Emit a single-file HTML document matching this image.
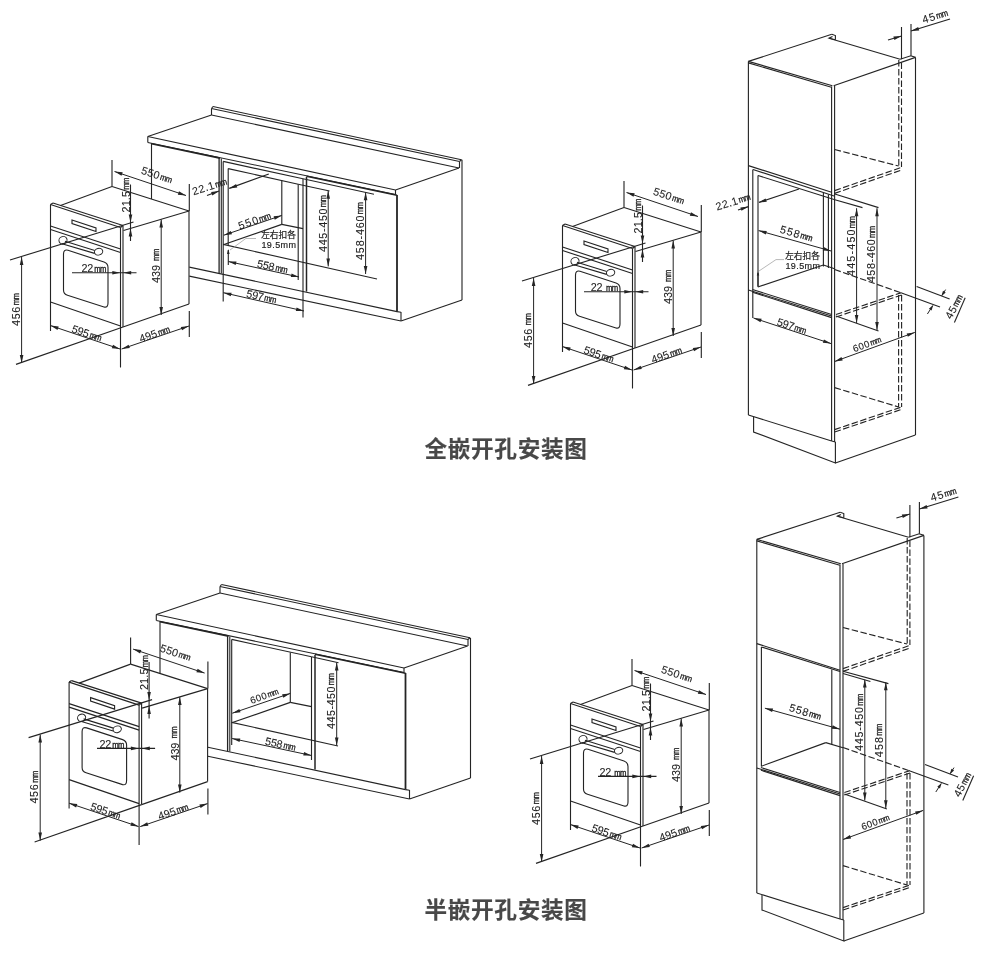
<!DOCTYPE html>
<html lang="zh"><head><meta charset="utf-8"><title>开孔安装图</title>
<style>
html,body{margin:0;padding:0;background:#fff;}
body{width:1000px;height:954px;overflow:hidden;}
svg{display:block;font-family:"Liberation Sans","Noto Sans CJK SC",sans-serif;}
svg{will-change:transform;}
svg line,svg polyline,svg polygon,svg path,svg ellipse{stroke:#242424;stroke-linecap:butt;}
</style></head><body>
<svg width="1000" height="954" viewBox="0 0 1000 954">
<rect x="0" y="0" width="1000" height="954" fill="#ffffff" stroke="none"/>
<line x1="147.8" y1="136.5" x2="147.8" y2="142.5" stroke-width="1.12"/>
<line x1="147.8" y1="136.5" x2="211.5" y2="115.0" stroke-width="1.12"/>
<line x1="211.5" y1="115.0" x2="211.5" y2="108.5" stroke-width="1.12"/>
<line x1="211.5" y1="108.5" x2="213.0" y2="106.5" stroke-width="1.12"/>
<line x1="213.0" y1="106.5" x2="461.5" y2="159.8" stroke-width="1.12"/>
<line x1="211.5" y1="108.5" x2="459.5" y2="161.5" stroke-width="1.12"/>
<line x1="211.5" y1="115.0" x2="459.0" y2="168.0" stroke-width="1.12"/>
<line x1="459.5" y1="161.5" x2="459.5" y2="168.0" stroke-width="1.12"/>
<line x1="459.5" y1="161.5" x2="461.5" y2="159.8" stroke-width="1.12"/>
<line x1="147.8" y1="136.5" x2="395.5" y2="190.0" stroke-width="1.12"/>
<line x1="147.8" y1="142.5" x2="395.5" y2="194.5" stroke-width="1.12"/>
<line x1="151.5" y1="143.7" x2="220.0" y2="158.1" stroke-width="1.6"/>
<line x1="306.5" y1="176.2" x2="397.0" y2="195.2" stroke-width="1.6"/>
<line x1="395.5" y1="190.0" x2="395.5" y2="194.5" stroke-width="1.12"/>
<line x1="395.5" y1="190.0" x2="459.0" y2="168.0" stroke-width="1.12"/>
<line x1="462.0" y1="159.8" x2="462.0" y2="300.0" stroke-width="1.12"/>
<line x1="401.0" y1="321.0" x2="462.0" y2="300.0" stroke-width="1.12"/>
<line x1="397.0" y1="195.0" x2="397.0" y2="311.6" stroke-width="1.8"/>
<line x1="401.0" y1="312.0" x2="401.0" y2="321.0" stroke-width="1.12"/>
<line x1="397.0" y1="311.6" x2="401.0" y2="312.2" stroke-width="1.12"/>
<line x1="189.3" y1="267.1" x2="397.0" y2="311.6" stroke-width="1.12"/>
<line x1="189.3" y1="276.1" x2="401.0" y2="321.0" stroke-width="1.12"/>
<line x1="151.5" y1="143.0" x2="151.5" y2="199.0" stroke-width="1.12"/>
<line x1="219.1" y1="158.0" x2="219.1" y2="273.0" stroke-width="1.3"/>
<line x1="221.3" y1="158.5" x2="221.3" y2="273.5" stroke-width="1.1"/>
<line x1="223.2" y1="161.4" x2="223.2" y2="301.4" stroke-width="1.12"/>
<line x1="223.2" y1="161.4" x2="303.0" y2="178.8" stroke-width="1.12"/>
<line x1="303.0" y1="178.8" x2="374.0" y2="194.3" stroke-width="1.12"/>
<line x1="303.0" y1="178.8" x2="303.0" y2="317.5" stroke-width="1.12"/>
<line x1="228.2" y1="168.6" x2="228.2" y2="245.5" stroke-width="1.12"/>
<line x1="228.2" y1="168.6" x2="298.2" y2="184.2" stroke-width="1.12"/>
<line x1="298.2" y1="184.2" x2="329.5" y2="191.0" stroke-width="1.12"/>
<line x1="298.2" y1="184.2" x2="298.2" y2="280.0" stroke-width="1.12"/>
<line x1="281.8" y1="180.5" x2="281.8" y2="224.4" stroke-width="1.12"/>
<line x1="306.5" y1="177.0" x2="306.5" y2="291.6" stroke-width="1.5"/>
<line x1="281.8" y1="224.4" x2="303.0" y2="228.6" stroke-width="1.12"/>
<line x1="281.8" y1="224.4" x2="223.2" y2="244.8" stroke-width="1.12"/>
<line x1="223.2" y1="244.4" x2="377.0" y2="279.0" stroke-width="1.12"/>
<line x1="223.8" y1="235.2" x2="281.8" y2="215.4" stroke-width="1.0"/>
<polygon points="281.8,215.4 274.8,219.7 273.6,216.3" style="fill:#242424;stroke:none"/>
<polygon points="223.8,235.2 230.8,230.9 232.0,234.3" style="fill:#242424;stroke:none"/>
<g transform="translate(254.5 220.5) rotate(-19.0)" fill="#222" stroke="#222" stroke-width="0.08"><text x="-17.00" y="3.89" font-size="10.8" letter-spacing="1.28">550</text><text transform="translate(4.77 3.39) scale(1 1.16)" font-size="7.7" letter-spacing="-0.6" stroke-width="0.28">mm</text></g>
<g transform="translate(209.5 186.2) rotate(-17.0)" fill="#222" stroke="#222" stroke-width="0.08"><text x="-18.00" y="3.89" font-size="10.8" letter-spacing="0.52">22.1</text><text transform="translate(5.77 3.39) scale(1 1.16)" font-size="7.7" letter-spacing="-0.6" stroke-width="0.28">mm</text></g>
<line x1="207.0" y1="195.6" x2="219.0" y2="191.0" stroke-width="1.12"/>
<polygon points="219.2,191.0 212.3,195.4 211.1,192.0" style="fill:#242424;stroke:none"/>
<line x1="268.8" y1="174.0" x2="229.2" y2="188.4" stroke-width="1.12"/>
<polygon points="229.2,188.4 236.1,184.0 237.3,187.4" style="fill:#242424;stroke:none"/>
<polyline points="230.0,250.0 245.8,238.5 256.0,238.5" style="fill:none;stroke:#999" stroke-width="0.7"/>
<text x="278.5" y="234.6" text-anchor="middle" dominant-baseline="central" font-size="8.7" letter-spacing="0" fill="#222" stroke="#222" stroke-width="0.18">左右扣各</text>
<text x="278.9" y="245.4" text-anchor="middle" dominant-baseline="central" font-size="9" letter-spacing="0.4" fill="#222" stroke="#222" stroke-width="0.18">19.5mm</text>
<line x1="228.3" y1="261.5" x2="299.0" y2="277.0" stroke-width="1.0"/>
<polygon points="299.0,277.0 290.8,277.0 291.6,273.5" style="fill:#242424;stroke:none"/>
<polygon points="228.3,261.5 236.5,261.5 235.7,265.0" style="fill:#242424;stroke:none"/>
<g transform="translate(272.5 266.5) rotate(12.5)" fill="#222" stroke="#222" stroke-width="0.08"><text x="-15.50" y="3.89" font-size="10.8" letter-spacing="-0.20">558</text><text transform="translate(3.27 3.39) scale(1 1.16)" font-size="7.7" letter-spacing="-0.6" stroke-width="0.28">mm</text></g>
<line x1="223.4" y1="292.7" x2="304.0" y2="311.0" stroke-width="1.0"/>
<polygon points="304.0,311.0 295.8,311.0 296.6,307.5" style="fill:#242424;stroke:none"/>
<polygon points="223.4,292.7 231.6,292.7 230.8,296.2" style="fill:#242424;stroke:none"/>
<g transform="translate(261.5 296.5) rotate(12.5)" fill="#222" stroke="#222" stroke-width="0.08"><text x="-15.25" y="3.89" font-size="10.8" letter-spacing="-0.20">597</text><text transform="translate(3.02 3.39) scale(1 1.16)" font-size="7.7" letter-spacing="-0.6" stroke-width="0.28">mm</text></g>
<line x1="328.2" y1="190.8" x2="328.2" y2="266.4" stroke-width="1.0"/>
<polygon points="328.2,266.4 326.4,258.4 330.0,258.4" style="fill:#242424;stroke:none"/>
<polygon points="328.2,190.8 330.0,198.8 326.4,198.8" style="fill:#242424;stroke:none"/>
<g transform="translate(322.8 223.5) rotate(-90.0)" fill="#222" stroke="#222" stroke-width="0.08"><text x="-28.50" y="3.89" font-size="10.8" letter-spacing="0.66">445-450</text><text transform="translate(16.27 3.39) scale(1 1.16)" font-size="7.7" letter-spacing="-0.6" stroke-width="0.28">mm</text></g>
<line x1="365.6" y1="192.3" x2="365.6" y2="274.0" stroke-width="1.0"/>
<polygon points="365.6,274.0 363.8,266.0 367.4,266.0" style="fill:#242424;stroke:none"/>
<polygon points="365.6,192.3 367.4,200.3 363.8,200.3" style="fill:#242424;stroke:none"/>
<g transform="translate(360.0 231.0) rotate(-90.0)" fill="#222" stroke="#222" stroke-width="0.08"><text x="-29.00" y="3.89" font-size="10.8" letter-spacing="0.82">458-460</text><text transform="translate(16.77 3.39) scale(1 1.16)" font-size="7.7" letter-spacing="-0.6" stroke-width="0.28">mm</text></g>
<line x1="228.3" y1="250.0" x2="228.3" y2="265.0" stroke-width="1.12"/>
<polygon points="228.3,249.0 229.6,254.0 227.0,254.0" style="fill:#242424;stroke:none"/>
<line x1="156.3" y1="614.5" x2="156.3" y2="620.5" stroke-width="1.12"/>
<line x1="156.3" y1="614.5" x2="220.0" y2="593.0" stroke-width="1.12"/>
<line x1="220.0" y1="593.0" x2="220.0" y2="586.5" stroke-width="1.12"/>
<line x1="220.0" y1="586.5" x2="221.5" y2="584.5" stroke-width="1.12"/>
<line x1="221.5" y1="584.5" x2="470.0" y2="637.8" stroke-width="1.12"/>
<line x1="220.0" y1="586.5" x2="468.0" y2="639.5" stroke-width="1.12"/>
<line x1="220.0" y1="593.0" x2="467.5" y2="646.0" stroke-width="1.12"/>
<line x1="468.0" y1="639.5" x2="468.0" y2="646.0" stroke-width="1.12"/>
<line x1="468.0" y1="639.5" x2="470.0" y2="637.8" stroke-width="1.12"/>
<line x1="156.3" y1="614.5" x2="404.0" y2="668.0" stroke-width="1.12"/>
<line x1="156.3" y1="620.5" x2="404.0" y2="672.5" stroke-width="1.12"/>
<line x1="160.0" y1="621.7" x2="228.5" y2="636.1" stroke-width="1.6"/>
<line x1="315.0" y1="654.2" x2="405.5" y2="673.2" stroke-width="1.6"/>
<line x1="404.0" y1="668.0" x2="404.0" y2="672.5" stroke-width="1.12"/>
<line x1="404.0" y1="668.0" x2="467.5" y2="646.0" stroke-width="1.12"/>
<line x1="470.5" y1="637.8" x2="470.5" y2="778.0" stroke-width="1.12"/>
<line x1="409.5" y1="799.0" x2="470.5" y2="778.0" stroke-width="1.12"/>
<line x1="405.5" y1="673.0" x2="405.5" y2="789.6" stroke-width="1.8"/>
<line x1="409.5" y1="790.0" x2="409.5" y2="799.0" stroke-width="1.12"/>
<line x1="405.5" y1="789.6" x2="409.5" y2="790.2" stroke-width="1.12"/>
<line x1="207.9" y1="747.2" x2="405.5" y2="789.6" stroke-width="1.12"/>
<line x1="207.9" y1="756.2" x2="409.5" y2="799.0" stroke-width="1.12"/>
<line x1="160.0" y1="621.0" x2="160.0" y2="673.5" stroke-width="1.12"/>
<line x1="227.6" y1="636.0" x2="227.6" y2="751.0" stroke-width="1.3"/>
<line x1="229.8" y1="636.5" x2="229.8" y2="751.5" stroke-width="1.1"/>
<line x1="231.7" y1="639.4" x2="231.7" y2="745.0" stroke-width="1.12"/>
<line x1="231.7" y1="639.4" x2="311.5" y2="656.8" stroke-width="1.12"/>
<line x1="311.5" y1="656.8" x2="338.5" y2="662.8" stroke-width="1.12"/>
<line x1="311.5" y1="656.8" x2="311.5" y2="760.0" stroke-width="1.12"/>
<line x1="290.3" y1="652.5" x2="290.3" y2="702.4" stroke-width="1.12"/>
<line x1="315.0" y1="655.0" x2="315.0" y2="769.6" stroke-width="1.5"/>
<line x1="290.3" y1="702.4" x2="311.5" y2="706.6" stroke-width="1.12"/>
<line x1="290.3" y1="702.4" x2="231.7" y2="722.8" stroke-width="1.12"/>
<line x1="231.7" y1="722.4" x2="338.0" y2="746.0" stroke-width="1.12"/>
<line x1="232.3" y1="713.2" x2="290.3" y2="693.4" stroke-width="1.0"/>
<polygon points="290.3,693.4 283.3,697.7 282.1,694.3" style="fill:#242424;stroke:none"/>
<polygon points="232.3,713.2 239.3,708.9 240.5,712.3" style="fill:#242424;stroke:none"/>
<g transform="translate(264.3 695.8) rotate(-19.0)" fill="#222" stroke="#222" stroke-width="0.08"><text x="-14.75" y="3.46" font-size="9.6" letter-spacing="0.45">600</text><text transform="translate(3.35 2.96) scale(1 1.16)" font-size="7.2" letter-spacing="-0.6" stroke-width="0.28">mm</text></g>
<line x1="232.1" y1="738.5" x2="311.5" y2="755.5" stroke-width="1.0"/>
<polygon points="311.5,755.5 303.3,755.6 304.1,752.1" style="fill:#242424;stroke:none"/>
<polygon points="232.1,738.5 240.3,738.4 239.5,741.9" style="fill:#242424;stroke:none"/>
<g transform="translate(280.5 744.0) rotate(12.5)" fill="#222" stroke="#222" stroke-width="0.08"><text x="-15.50" y="3.89" font-size="10.8" letter-spacing="-0.20">558</text><text transform="translate(3.27 3.39) scale(1 1.16)" font-size="7.7" letter-spacing="-0.6" stroke-width="0.28">mm</text></g>
<line x1="336.7" y1="662.5" x2="336.7" y2="745.5" stroke-width="1.0"/>
<polygon points="336.7,745.5 334.9,737.5 338.5,737.5" style="fill:#242424;stroke:none"/>
<polygon points="336.7,662.5 338.5,670.5 334.9,670.5" style="fill:#242424;stroke:none"/>
<g transform="translate(331.0 701.0) rotate(-90.0)" fill="#222" stroke="#222" stroke-width="0.08"><text x="-28.00" y="3.89" font-size="10.8" letter-spacing="0.49">445-450</text><text transform="translate(15.77 3.39) scale(1 1.16)" font-size="7.7" letter-spacing="-0.6" stroke-width="0.28">mm</text></g>
<line x1="748.4" y1="61.4" x2="831.8" y2="34.2" stroke-width="1.12"/>
<polyline points="831.8,34.2 835.4,35.6 835.4,39.8" fill="none" stroke-width="1.12"/>
<polyline points="835.4,39.8 829.0,38.2 832.5,36.5" fill="none" stroke-width="1.12"/>
<line x1="829.0" y1="38.2" x2="900.1" y2="59.2" stroke-width="1.12"/>
<line x1="748.4" y1="61.4" x2="832.4" y2="85.8" stroke-width="1.12"/>
<line x1="748.4" y1="62.9" x2="831.4" y2="87.2" stroke-width="1.12"/>
<line x1="833.6" y1="85.8" x2="915.5" y2="57.4" stroke-width="1.12"/>
<polyline points="900.1,59.2 910.8,55.8 915.5,57.4" fill="none" stroke-width="1.12"/>
<line x1="748.4" y1="61.4" x2="748.4" y2="415.0" stroke-width="1.12"/>
<line x1="831.6" y1="86.5" x2="831.6" y2="441.0" stroke-width="1.12"/>
<line x1="834.6" y1="86.0" x2="834.6" y2="442.0" stroke-width="1.12"/>
<line x1="915.5" y1="57.4" x2="915.5" y2="435.0" stroke-width="1.12"/>
<line x1="901.5" y1="27.0" x2="901.5" y2="59.2" stroke-width="1.12"/>
<line x1="911.0" y1="24.0" x2="911.0" y2="55.8" stroke-width="1.12"/>
<line x1="888.0" y1="40.0" x2="901.6" y2="36.0" stroke-width="1.12"/>
<polygon points="901.6,36.0 894.4,39.9 893.4,36.5" style="fill:#242424;stroke:none"/>
<line x1="911.0" y1="31.0" x2="950.0" y2="19.0" stroke-width="1.12"/>
<polygon points="911.0,31.0 918.2,27.1 919.2,30.5" style="fill:#242424;stroke:none"/>
<g transform="translate(935.0 16.0) rotate(-17.0)" fill="#222" stroke="#222" stroke-width="0.08"><text x="-13.25" y="3.89" font-size="10.8" letter-spacing="1.06">45</text><text transform="translate(1.02 3.39) scale(1 1.16)" font-size="7.7" letter-spacing="-0.6" stroke-width="0.28">mm</text></g>
<line x1="898.8" y1="60.0" x2="898.8" y2="166.0" stroke-width="1.12" stroke-dasharray="6.5 2.5"/>
<line x1="901.5" y1="62.5" x2="901.5" y2="167.0" stroke-width="1.12" stroke-dasharray="6.5 2.5"/>
<line x1="834.6" y1="149.5" x2="898.6" y2="166.0" stroke-width="1.12" stroke-dasharray="6.5 2.5"/>
<line x1="834.6" y1="190.6" x2="901.6" y2="167.3" stroke-width="1.12" stroke-dasharray="6.5 2.5"/>
<line x1="834.6" y1="193.4" x2="901.6" y2="170.0" stroke-width="1.12" stroke-dasharray="6.5 2.5"/>
<line x1="748.4" y1="165.6" x2="831.6" y2="192.2" stroke-width="1.12"/>
<line x1="834.0" y1="193.8" x2="878.5" y2="207.6" stroke-width="1.12"/>
<line x1="834.0" y1="199.5" x2="862.5" y2="207.6" stroke-width="1.12"/>
<line x1="753.0" y1="169.5" x2="834.0" y2="196.0" stroke-width="1.12"/>
<line x1="752.8" y1="169.5" x2="752.8" y2="318.0" stroke-width="1.12"/>
<line x1="758.0" y1="175.5" x2="758.0" y2="287.0" stroke-width="1.12"/>
<line x1="758.0" y1="175.5" x2="834.0" y2="199.5" stroke-width="1.12"/>
<line x1="823.4" y1="193.0" x2="823.4" y2="266.5" stroke-width="1.12"/>
<line x1="828.4" y1="194.5" x2="828.4" y2="268.0" stroke-width="1.12"/>
<line x1="757.8" y1="287.0" x2="823.4" y2="265.0" stroke-width="1.12"/>
<line x1="823.4" y1="265.0" x2="834.6" y2="268.8" stroke-width="1.12"/>
<line x1="752.5" y1="289.5" x2="831.6" y2="314.5" stroke-width="1.12"/>
<line x1="748.4" y1="290.0" x2="831.6" y2="316.0" stroke-width="1.12"/>
<line x1="752.5" y1="292.2" x2="831.6" y2="317.6" stroke-width="1.12"/>
<line x1="834.6" y1="269.5" x2="901.6" y2="293.0" stroke-width="1.12" stroke-dasharray="6.5 2.5"/>
<line x1="836.0" y1="314.5" x2="901.6" y2="292.6" stroke-width="1.12" stroke-dasharray="6.5 2.5"/>
<line x1="836.0" y1="317.0" x2="901.6" y2="295.0" stroke-width="1.12" stroke-dasharray="6.5 2.5"/>
<line x1="898.6" y1="295.0" x2="898.6" y2="407.0" stroke-width="1.12" stroke-dasharray="6.5 2.5"/>
<line x1="901.6" y1="295.0" x2="901.6" y2="407.0" stroke-width="1.12" stroke-dasharray="6.5 2.5"/>
<line x1="834.6" y1="387.6" x2="898.6" y2="407.0" stroke-width="1.12" stroke-dasharray="6.5 2.5"/>
<line x1="834.6" y1="429.6" x2="901.6" y2="407.0" stroke-width="1.12" stroke-dasharray="6.5 2.5"/>
<line x1="834.6" y1="432.0" x2="901.6" y2="409.4" stroke-width="1.12" stroke-dasharray="6.5 2.5"/>
<line x1="748.4" y1="415.0" x2="831.6" y2="441.0" stroke-width="1.12"/>
<polyline points="753.6,416.8 753.6,432.0 835.4,463.0 835.4,442.0" fill="none" stroke-width="1.12"/>
<line x1="831.6" y1="441.0" x2="835.4" y2="442.0" stroke-width="1.12"/>
<line x1="835.4" y1="463.0" x2="915.4" y2="435.0" stroke-width="1.12"/>
<line x1="836.0" y1="316.0" x2="878.5" y2="331.0" stroke-width="1.12"/>
<g transform="translate(733.0 201.5) rotate(-17.0)" fill="#222" stroke="#222" stroke-width="0.08"><text x="-18.00" y="3.89" font-size="10.8" letter-spacing="0.52">22.1</text><text transform="translate(5.77 3.39) scale(1 1.16)" font-size="7.7" letter-spacing="-0.6" stroke-width="0.28">mm</text></g>
<line x1="738.0" y1="210.0" x2="748.6" y2="206.6" stroke-width="1.12"/>
<polygon points="748.6,206.6 741.5,210.8 740.4,207.4" style="fill:#242424;stroke:none"/>
<line x1="799.0" y1="189.0" x2="759.0" y2="202.4" stroke-width="1.12"/>
<polygon points="758.6,202.6 765.6,198.4 766.8,201.8" style="fill:#242424;stroke:none"/>
<line x1="758.6" y1="230.6" x2="831.0" y2="251.0" stroke-width="1.0"/>
<polygon points="831.0,251.0 822.8,250.6 823.8,247.1" style="fill:#242424;stroke:none"/>
<polygon points="758.6,230.6 766.8,231.0 765.8,234.5" style="fill:#242424;stroke:none"/>
<g transform="translate(796.5 233.5) rotate(16.5)" fill="#222" stroke="#222" stroke-width="0.08"><text x="-16.75" y="3.89" font-size="10.8" letter-spacing="1.03">558</text><text transform="translate(4.52 3.39) scale(1 1.16)" font-size="7.7" letter-spacing="-0.6" stroke-width="0.28">mm</text></g>
<polyline points="759.0,271.0 776.0,259.6 784.0,259.6" style="fill:none;stroke:#999" stroke-width="0.7"/>
<line x1="758.0" y1="273.0" x2="758.0" y2="286.0" stroke-width="1.12"/>
<polygon points="758.0,271.5 759.2,275.5 756.8,275.5" style="fill:#242424;stroke:none"/>
<text x="802.5" y="256.4" text-anchor="middle" dominant-baseline="central" font-size="8.7" letter-spacing="0" fill="#222" stroke="#222" stroke-width="0.18">左右扣各</text>
<text x="802.9" y="266.4" text-anchor="middle" dominant-baseline="central" font-size="9" letter-spacing="0.4" fill="#222" stroke="#222" stroke-width="0.18">19.5mm</text>
<line x1="856.6" y1="208.2" x2="856.6" y2="323.0" stroke-width="1.0"/>
<polygon points="856.6,323.0 854.8,315.0 858.4,315.0" style="fill:#242424;stroke:none"/>
<polygon points="856.6,208.2 858.4,216.2 854.8,216.2" style="fill:#242424;stroke:none"/>
<g transform="translate(851.5 246.0) rotate(-90.0)" fill="#222" stroke="#222" stroke-width="0.08"><text x="-30.00" y="3.89" font-size="10.8" letter-spacing="1.16">445-450</text><text transform="translate(17.77 3.39) scale(1 1.16)" font-size="7.7" letter-spacing="-0.6" stroke-width="0.28">mm</text></g>
<line x1="877.0" y1="208.2" x2="877.0" y2="330.0" stroke-width="1.0"/>
<polygon points="877.0,330.0 875.2,322.0 878.8,322.0" style="fill:#242424;stroke:none"/>
<polygon points="877.0,208.2 878.8,216.2 875.2,216.2" style="fill:#242424;stroke:none"/>
<g transform="translate(871.5 254.0) rotate(-90.0)" fill="#222" stroke="#222" stroke-width="0.08"><text x="-28.25" y="3.89" font-size="10.8" letter-spacing="0.57">458-460</text><text transform="translate(16.02 3.39) scale(1 1.16)" font-size="7.7" letter-spacing="-0.6" stroke-width="0.28">mm</text></g>
<line x1="753.5" y1="318.0" x2="831.0" y2="343.6" stroke-width="1.0"/>
<polygon points="831.0,343.6 822.8,342.8 824.0,339.4" style="fill:#242424;stroke:none"/>
<polygon points="753.5,318.0 761.7,318.8 760.5,322.2" style="fill:#242424;stroke:none"/>
<g transform="translate(792.0 326.0) rotate(18.0)" fill="#222" stroke="#222" stroke-width="0.08"><text x="-15.25" y="3.89" font-size="10.8" letter-spacing="-0.20">597</text><text transform="translate(3.02 3.39) scale(1 1.16)" font-size="7.7" letter-spacing="-0.6" stroke-width="0.28">mm</text></g>
<line x1="834.6" y1="361.5" x2="914.8" y2="332.4" stroke-width="1.0"/>
<polygon points="914.8,332.4 907.9,336.8 906.7,333.4" style="fill:#242424;stroke:none"/>
<polygon points="834.6,361.5 841.5,357.1 842.7,360.5" style="fill:#242424;stroke:none"/>
<g transform="translate(867.0 344.0) rotate(-19.5)" fill="#222" stroke="#222" stroke-width="0.08"><text x="-14.75" y="3.46" font-size="9.6" letter-spacing="0.45">600</text><text transform="translate(3.35 2.96) scale(1 1.16)" font-size="7.2" letter-spacing="-0.6" stroke-width="0.28">mm</text></g>
<line x1="916.6" y1="286.6" x2="949.6" y2="299.0" stroke-width="1.12"/>
<line x1="901.6" y1="293.0" x2="940.0" y2="307.0" stroke-width="1.12"/>
<line x1="945.6" y1="289.6" x2="941.8" y2="295.6" stroke-width="1.0"/>
<polygon points="941.4,296.2 943.0,290.7 945.7,292.4" style="fill:#242424;stroke:none"/>
<line x1="927.4" y1="314.0" x2="932.8" y2="305.6" stroke-width="1.0"/>
<polygon points="933.2,305.0 931.6,310.5 928.9,308.8" style="fill:#242424;stroke:none"/>
<g transform="translate(954.0 306.5) rotate(-62.0)" fill="#222" stroke="#222" stroke-width="0.08"><text x="-13.00" y="3.89" font-size="10.8" letter-spacing="0.56">45</text><text transform="translate(0.77 3.39) scale(1 1.16)" font-size="7.7" letter-spacing="-0.6" stroke-width="0.28">mm</text></g>
<line x1="954.4" y1="322.4" x2="965.2" y2="297.8" stroke-width="1.12"/>
<line x1="756.8" y1="539.4" x2="840.2" y2="512.2" stroke-width="1.12"/>
<polyline points="840.2,512.2 843.8,513.6 843.8,517.8" fill="none" stroke-width="1.12"/>
<polyline points="843.8,517.8 837.4,516.2 840.9,514.5" fill="none" stroke-width="1.12"/>
<line x1="837.4" y1="516.2" x2="908.5" y2="537.2" stroke-width="1.12"/>
<line x1="756.8" y1="539.4" x2="840.8" y2="563.8" stroke-width="1.12"/>
<line x1="756.8" y1="540.9" x2="839.8" y2="565.2" stroke-width="1.12"/>
<line x1="842.0" y1="563.8" x2="923.9" y2="535.4" stroke-width="1.12"/>
<polyline points="908.5,537.2 919.2,533.8 923.9,535.4" fill="none" stroke-width="1.12"/>
<line x1="756.8" y1="539.4" x2="756.8" y2="893.0" stroke-width="1.12"/>
<line x1="840.0" y1="564.5" x2="840.0" y2="919.0" stroke-width="1.12"/>
<line x1="843.0" y1="564.0" x2="843.0" y2="920.0" stroke-width="1.12"/>
<line x1="923.9" y1="535.4" x2="923.9" y2="913.0" stroke-width="1.12"/>
<line x1="909.9" y1="505.0" x2="909.9" y2="537.2" stroke-width="1.12"/>
<line x1="919.4" y1="502.0" x2="919.4" y2="533.8" stroke-width="1.12"/>
<line x1="896.4" y1="518.0" x2="910.0" y2="514.0" stroke-width="1.12"/>
<polygon points="910.0,514.0 902.8,517.9 901.8,514.5" style="fill:#242424;stroke:none"/>
<line x1="919.4" y1="509.0" x2="958.4" y2="497.0" stroke-width="1.12"/>
<polygon points="919.4,509.0 926.6,505.1 927.6,508.5" style="fill:#242424;stroke:none"/>
<g transform="translate(943.4 494.0) rotate(-17.0)" fill="#222" stroke="#222" stroke-width="0.08"><text x="-13.25" y="3.89" font-size="10.8" letter-spacing="1.06">45</text><text transform="translate(1.02 3.39) scale(1 1.16)" font-size="7.7" letter-spacing="-0.6" stroke-width="0.28">mm</text></g>
<line x1="907.2" y1="538.0" x2="907.2" y2="644.0" stroke-width="1.12" stroke-dasharray="6.5 2.5"/>
<line x1="909.9" y1="540.5" x2="909.9" y2="645.0" stroke-width="1.12" stroke-dasharray="6.5 2.5"/>
<line x1="843.0" y1="627.5" x2="907.0" y2="644.0" stroke-width="1.12" stroke-dasharray="6.5 2.5"/>
<line x1="843.0" y1="668.6" x2="910.0" y2="645.3" stroke-width="1.12" stroke-dasharray="6.5 2.5"/>
<line x1="843.0" y1="671.4" x2="910.0" y2="648.0" stroke-width="1.12" stroke-dasharray="6.5 2.5"/>
<line x1="756.8" y1="643.6" x2="840.0" y2="670.2" stroke-width="1.12"/>
<line x1="843.0" y1="671.2" x2="888.4" y2="683.6" stroke-width="1.12"/>
<line x1="843.0" y1="673.5" x2="870.4" y2="681.5" stroke-width="1.12"/>
<line x1="761.4" y1="647.0" x2="761.4" y2="766.5" stroke-width="1.12"/>
<line x1="761.4" y1="647.0" x2="840.0" y2="671.5" stroke-width="1.12"/>
<line x1="831.8" y1="669.5" x2="831.8" y2="744.5" stroke-width="1.12"/>
<line x1="761.4" y1="766.2" x2="825.8" y2="742.6" stroke-width="1.12"/>
<line x1="825.8" y1="742.6" x2="843.0" y2="747.8" stroke-width="1.12"/>
<line x1="760.9" y1="767.5" x2="840.0" y2="792.5" stroke-width="1.12"/>
<line x1="756.8" y1="768.0" x2="840.0" y2="794.0" stroke-width="1.12"/>
<line x1="760.9" y1="770.2" x2="840.0" y2="795.6" stroke-width="1.12"/>
<line x1="843.0" y1="747.5" x2="910.0" y2="771.0" stroke-width="1.12" stroke-dasharray="6.5 2.5"/>
<line x1="844.4" y1="792.5" x2="910.0" y2="770.6" stroke-width="1.12" stroke-dasharray="6.5 2.5"/>
<line x1="844.4" y1="795.0" x2="910.0" y2="773.0" stroke-width="1.12" stroke-dasharray="6.5 2.5"/>
<line x1="907.0" y1="773.0" x2="907.0" y2="885.0" stroke-width="1.12" stroke-dasharray="6.5 2.5"/>
<line x1="910.0" y1="773.0" x2="910.0" y2="885.0" stroke-width="1.12" stroke-dasharray="6.5 2.5"/>
<line x1="843.0" y1="865.6" x2="907.0" y2="885.0" stroke-width="1.12" stroke-dasharray="6.5 2.5"/>
<line x1="843.0" y1="907.6" x2="910.0" y2="885.0" stroke-width="1.12" stroke-dasharray="6.5 2.5"/>
<line x1="843.0" y1="910.0" x2="910.0" y2="887.4" stroke-width="1.12" stroke-dasharray="6.5 2.5"/>
<line x1="756.8" y1="893.0" x2="840.0" y2="919.0" stroke-width="1.12"/>
<polyline points="762.0,894.8 762.0,910.0 843.8,941.0 843.8,920.0" fill="none" stroke-width="1.12"/>
<line x1="840.0" y1="919.0" x2="843.8" y2="920.0" stroke-width="1.12"/>
<line x1="843.8" y1="941.0" x2="923.8" y2="913.0" stroke-width="1.12"/>
<line x1="844.4" y1="794.0" x2="886.9" y2="809.0" stroke-width="1.12"/>
<line x1="764.9" y1="708.2" x2="840.0" y2="729.2" stroke-width="1.0"/>
<polygon points="840.0,729.2 831.8,728.8 832.8,725.3" style="fill:#242424;stroke:none"/>
<polygon points="764.9,708.2 773.1,708.6 772.1,712.1" style="fill:#242424;stroke:none"/>
<g transform="translate(805.4 711.8) rotate(16.5)" fill="#222" stroke="#222" stroke-width="0.08"><text x="-16.50" y="3.89" font-size="10.8" letter-spacing="0.78">558</text><text transform="translate(4.27 3.39) scale(1 1.16)" font-size="7.7" letter-spacing="-0.6" stroke-width="0.28">mm</text></g>
<line x1="864.8" y1="679.6" x2="864.8" y2="800.6" stroke-width="1.0"/>
<polygon points="864.8,800.6 863.0,792.6 866.6,792.6" style="fill:#242424;stroke:none"/>
<polygon points="864.8,679.6 866.6,687.6 863.0,687.6" style="fill:#242424;stroke:none"/>
<g transform="translate(859.4 722.2) rotate(-90.0)" fill="#222" stroke="#222" stroke-width="0.08"><text x="-28.70" y="3.89" font-size="10.8" letter-spacing="0.72">445-450</text><text transform="translate(16.47 3.39) scale(1 1.16)" font-size="7.7" letter-spacing="-0.6" stroke-width="0.28">mm</text></g>
<line x1="885.8" y1="682.2" x2="885.8" y2="808.2" stroke-width="1.0"/>
<polygon points="885.8,808.2 884.0,800.2 887.6,800.2" style="fill:#242424;stroke:none"/>
<polygon points="885.8,682.2 887.6,690.2 884.0,690.2" style="fill:#242424;stroke:none"/>
<g transform="translate(878.9 740.4) rotate(-90.0)" fill="#222" stroke="#222" stroke-width="0.08"><text x="-16.80" y="3.89" font-size="10.8" letter-spacing="1.08">458</text><text transform="translate(4.57 3.39) scale(1 1.16)" font-size="7.7" letter-spacing="-0.6" stroke-width="0.28">mm</text></g>
<line x1="843.0" y1="839.5" x2="923.2" y2="810.4" stroke-width="1.0"/>
<polygon points="923.2,810.4 916.3,814.8 915.1,811.4" style="fill:#242424;stroke:none"/>
<polygon points="843.0,839.5 849.9,835.1 851.1,838.5" style="fill:#242424;stroke:none"/>
<g transform="translate(875.4 822.0) rotate(-19.5)" fill="#222" stroke="#222" stroke-width="0.08"><text x="-14.75" y="3.46" font-size="9.6" letter-spacing="0.45">600</text><text transform="translate(3.35 2.96) scale(1 1.16)" font-size="7.2" letter-spacing="-0.6" stroke-width="0.28">mm</text></g>
<line x1="925.0" y1="764.6" x2="958.0" y2="777.0" stroke-width="1.12"/>
<line x1="910.0" y1="771.0" x2="948.4" y2="785.0" stroke-width="1.12"/>
<line x1="954.0" y1="767.6" x2="950.2" y2="773.6" stroke-width="1.0"/>
<polygon points="949.8,774.2 951.4,768.7 954.1,770.4" style="fill:#242424;stroke:none"/>
<line x1="935.8" y1="792.0" x2="941.2" y2="783.6" stroke-width="1.0"/>
<polygon points="941.6,783.0 940.0,788.5 937.3,786.8" style="fill:#242424;stroke:none"/>
<g transform="translate(962.4 784.5) rotate(-62.0)" fill="#222" stroke="#222" stroke-width="0.08"><text x="-13.00" y="3.89" font-size="10.8" letter-spacing="0.56">45</text><text transform="translate(0.77 3.39) scale(1 1.16)" font-size="7.7" letter-spacing="-0.6" stroke-width="0.28">mm</text></g>
<line x1="962.8" y1="800.4" x2="973.6" y2="775.8" stroke-width="1.12"/>
<line x1="50.5" y1="204.5" x2="50.5" y2="331.0" stroke-width="1.12"/>
<line x1="50.5" y1="204.5" x2="120.5" y2="227.5" stroke-width="1.12"/>
<line x1="53.0" y1="203.0" x2="123.0" y2="225.5" stroke-width="1.12"/>
<line x1="50.5" y1="204.5" x2="53.0" y2="203.0" stroke-width="1.12"/>
<line x1="120.5" y1="227.5" x2="123.0" y2="225.5" stroke-width="1.12"/>
<line x1="120.5" y1="227.5" x2="120.5" y2="367.5" stroke-width="1.12"/>
<line x1="123.0" y1="225.5" x2="123.0" y2="327.0" stroke-width="1.12"/>
<line x1="60.5" y1="205.5" x2="112.0" y2="186.5" stroke-width="1.12"/>
<line x1="112.0" y1="186.5" x2="189.0" y2="211.0" stroke-width="1.12"/>
<line x1="189.0" y1="211.0" x2="123.5" y2="230.5" stroke-width="1.12"/>
<line x1="189.0" y1="211.0" x2="189.0" y2="304.0" stroke-width="1.12"/>
<line x1="123.0" y1="327.0" x2="189.0" y2="304.0" stroke-width="1.12"/>
<line x1="50.5" y1="302.0" x2="120.5" y2="326.0" stroke-width="1.12"/>
<line x1="50.5" y1="226.0" x2="120.5" y2="249.0" stroke-width="1.12"/>
<line x1="50.5" y1="229.5" x2="120.5" y2="252.5" stroke-width="1.12"/>
<polygon points="72.0,220.0 96.0,228.0 96.0,231.5 72.0,223.5" fill="none" stroke-width="1.12"/>
<ellipse cx="63.0" cy="240.2" rx="4.1" ry="3.7" fill="#fff" transform="rotate(-25 63.0 240.2)"/>
<path d="M65,241.3 L95.6,250.8 M62,243.7 L94.6,253.4" fill="none" stroke-width="1.12" transform="translate(0.0 0.0)"/>
<ellipse cx="98.6" cy="251.7" rx="4.2" ry="3.3" fill="#fff" transform="rotate(-15 98.6 251.7)"/>
<path d="M63.5,254 Q63.5,249 68,250.3 L104,262 Q108,263.4 108,267.5 L108,303 Q108,308 104,307 L67.5,295.2 Q63.5,294 63.5,290 Z" fill="none" stroke-width="1.12" transform="translate(0.0 0.0)"/>
<line x1="112.0" y1="160.0" x2="112.0" y2="186.5" stroke-width="1.12"/>
<line x1="189.3" y1="184.0" x2="189.3" y2="211.0" stroke-width="1.12"/>
<line x1="189.3" y1="311.0" x2="189.3" y2="337.0" stroke-width="1.12"/>
<line x1="10.0" y1="260.0" x2="133.5" y2="222.0" stroke-width="1.12"/>
<line x1="16.0" y1="364.4" x2="123.0" y2="327.0" stroke-width="1.12"/>
<line x1="21.6" y1="257.0" x2="21.6" y2="363.0" stroke-width="1.0"/>
<polygon points="21.6,363.0 19.8,355.0 23.4,355.0" style="fill:#242424;stroke:none"/>
<polygon points="21.6,257.0 23.4,265.0 19.8,265.0" style="fill:#242424;stroke:none"/>
<g transform="translate(16.0 309.5) rotate(-90.0)" fill="#222" stroke="#222" stroke-width="0.08"><text x="-16.50" y="3.89" font-size="10.8" letter-spacing="0.63">456</text><text transform="translate(4.27 3.39) scale(1 1.16)" font-size="7.7" letter-spacing="-0.6" stroke-width="0.28">mm</text></g>
<line x1="50.5" y1="325.6" x2="120.0" y2="349.0" stroke-width="1.0"/>
<polygon points="120.0,349.0 111.8,348.2 113.0,344.7" style="fill:#242424;stroke:none"/>
<polygon points="50.5,325.6 58.7,326.4 57.5,329.9" style="fill:#242424;stroke:none"/>
<g transform="translate(87.0 333.2) rotate(18.5)" fill="#222" stroke="#222" stroke-width="0.08"><text x="-15.50" y="3.89" font-size="10.8" letter-spacing="-0.20">595</text><text transform="translate(3.27 3.39) scale(1 1.16)" font-size="7.7" letter-spacing="-0.6" stroke-width="0.28">mm</text></g>
<line x1="121.6" y1="349.0" x2="189.0" y2="326.0" stroke-width="1.0"/>
<polygon points="189.0,326.0 182.0,330.3 180.8,326.9" style="fill:#242424;stroke:none"/>
<polygon points="121.6,349.0 128.6,344.7 129.8,348.1" style="fill:#242424;stroke:none"/>
<g transform="translate(154.5 333.7) rotate(-19.0)" fill="#222" stroke="#222" stroke-width="0.08"><text x="-15.75" y="3.89" font-size="10.8" letter-spacing="0.03">495</text><text transform="translate(3.52 3.39) scale(1 1.16)" font-size="7.7" letter-spacing="-0.6" stroke-width="0.28">mm</text></g>
<line x1="161.2" y1="219.5" x2="161.2" y2="315.0" stroke-width="1.0"/>
<polygon points="161.2,315.0 159.4,307.0 163.0,307.0" style="fill:#242424;stroke:none"/>
<polygon points="161.2,219.5 163.0,227.5 159.4,227.5" style="fill:#242424;stroke:none"/>
<g transform="translate(156.3 265.8) rotate(-90.0)" fill="#222" stroke="#222" stroke-width="0.08"><text x="-17.15" y="3.89" font-size="10.8" letter-spacing="-0.07">439</text><text transform="translate(4.92 2.49) scale(1 1.16)" font-size="7.7" letter-spacing="-0.6" stroke-width="0.28">mm</text></g>
<line x1="114.5" y1="171.5" x2="186.0" y2="195.5" stroke-width="1.0"/>
<polygon points="186.0,195.5 177.8,194.7 179.0,191.2" style="fill:#242424;stroke:none"/>
<polygon points="114.5,171.5 122.7,172.3 121.5,175.8" style="fill:#242424;stroke:none"/>
<g transform="translate(157.0 175.0) rotate(18.5)" fill="#222" stroke="#222" stroke-width="0.08"><text x="-16.00" y="3.89" font-size="10.8" letter-spacing="0.28">550</text><text transform="translate(3.77 3.39) scale(1 1.16)" font-size="7.7" letter-spacing="-0.6" stroke-width="0.28">mm</text></g>
<line x1="130.5" y1="184.5" x2="130.5" y2="241.0" stroke-width="1.12"/>
<polygon points="130.5,222.5 128.7,214.5 132.3,214.5" style="fill:#242424;stroke:none"/>
<polygon points="130.5,228.5 132.3,236.5 128.7,236.5" style="fill:#242424;stroke:none"/>
<g transform="translate(125.7 195.0) rotate(-90.0)" fill="#222" stroke="#222" stroke-width="0.08"><text x="-17.50" y="3.89" font-size="10.8" letter-spacing="0.18">21.5</text><text transform="translate(5.27 3.39) scale(1 1.16)" font-size="7.7" letter-spacing="-0.6" stroke-width="0.28">mm</text></g>
<line x1="72.0" y1="272.8" x2="136.5" y2="272.8" stroke-width="1.12"/>
<polygon points="120.3,272.8 112.3,274.6 112.3,271.0" style="fill:#242424;stroke:none"/>
<polygon points="123.2,272.8 131.2,271.0 131.2,274.6" style="fill:#242424;stroke:none"/>
<g transform="translate(94.0 268.2) rotate(0.0)" fill="#222" stroke="#222" stroke-width="0.08"><text x="-12.50" y="3.89" font-size="10.8" letter-spacing="-0.20">22</text><text transform="translate(0.27 3.89) scale(1 1.16)" font-size="7.7" letter-spacing="-0.6" stroke-width="0.28">mm</text></g>
<line x1="562.5" y1="225.5" x2="562.5" y2="352.0" stroke-width="1.12"/>
<line x1="562.5" y1="225.5" x2="632.5" y2="248.5" stroke-width="1.12"/>
<line x1="565.0" y1="224.0" x2="635.0" y2="246.5" stroke-width="1.12"/>
<line x1="562.5" y1="225.5" x2="565.0" y2="224.0" stroke-width="1.12"/>
<line x1="632.5" y1="248.5" x2="635.0" y2="246.5" stroke-width="1.12"/>
<line x1="632.5" y1="248.5" x2="632.5" y2="388.5" stroke-width="1.12"/>
<line x1="635.0" y1="246.5" x2="635.0" y2="348.0" stroke-width="1.12"/>
<line x1="572.5" y1="226.5" x2="624.0" y2="207.5" stroke-width="1.12"/>
<line x1="624.0" y1="207.5" x2="701.0" y2="232.0" stroke-width="1.12"/>
<line x1="701.0" y1="232.0" x2="635.5" y2="251.5" stroke-width="1.12"/>
<line x1="701.0" y1="232.0" x2="701.0" y2="325.0" stroke-width="1.12"/>
<line x1="635.0" y1="348.0" x2="701.0" y2="325.0" stroke-width="1.12"/>
<line x1="562.5" y1="323.0" x2="632.5" y2="347.0" stroke-width="1.12"/>
<line x1="562.5" y1="247.0" x2="632.5" y2="270.0" stroke-width="1.12"/>
<line x1="562.5" y1="250.5" x2="632.5" y2="273.5" stroke-width="1.12"/>
<polygon points="584.0,241.0 608.0,249.0 608.0,252.5 584.0,244.5" fill="none" stroke-width="1.12"/>
<ellipse cx="575.0" cy="261.2" rx="4.1" ry="3.7" fill="#fff" transform="rotate(-25 575.0 261.2)"/>
<path d="M65,241.3 L95.6,250.8 M62,243.7 L94.6,253.4" fill="none" stroke-width="1.12" transform="translate(512.0 21.0)"/>
<ellipse cx="610.6" cy="272.7" rx="4.2" ry="3.3" fill="#fff" transform="rotate(-15 610.6 272.7)"/>
<path d="M63.5,254 Q63.5,249 68,250.3 L104,262 Q108,263.4 108,267.5 L108,303 Q108,308 104,307 L67.5,295.2 Q63.5,294 63.5,290 Z" fill="none" stroke-width="1.12" transform="translate(512.0 21.0)"/>
<line x1="624.0" y1="181.0" x2="624.0" y2="207.5" stroke-width="1.12"/>
<line x1="701.3" y1="205.0" x2="701.3" y2="232.0" stroke-width="1.12"/>
<line x1="701.3" y1="332.0" x2="701.3" y2="358.0" stroke-width="1.12"/>
<line x1="522.0" y1="281.0" x2="645.5" y2="243.0" stroke-width="1.12"/>
<line x1="528.0" y1="385.4" x2="635.0" y2="348.0" stroke-width="1.12"/>
<line x1="533.6" y1="278.0" x2="533.6" y2="384.0" stroke-width="1.0"/>
<polygon points="533.6,384.0 531.8,376.0 535.4,376.0" style="fill:#242424;stroke:none"/>
<polygon points="533.6,278.0 535.4,286.0 531.8,286.0" style="fill:#242424;stroke:none"/>
<g transform="translate(528.0 330.5) rotate(-90.0)" fill="#222" stroke="#222" stroke-width="0.08"><text x="-17.50" y="3.89" font-size="10.8" letter-spacing="0.63">456</text><text transform="translate(5.27 3.39) scale(1 1.16)" font-size="7.7" letter-spacing="-0.6" stroke-width="0.28">mm</text></g>
<line x1="562.5" y1="346.6" x2="632.0" y2="370.0" stroke-width="1.0"/>
<polygon points="632.0,370.0 623.8,369.2 625.0,365.7" style="fill:#242424;stroke:none"/>
<polygon points="562.5,346.6 570.7,347.4 569.5,350.9" style="fill:#242424;stroke:none"/>
<g transform="translate(599.0 354.2) rotate(18.5)" fill="#222" stroke="#222" stroke-width="0.08"><text x="-15.50" y="3.89" font-size="10.8" letter-spacing="-0.20">595</text><text transform="translate(3.27 3.39) scale(1 1.16)" font-size="7.7" letter-spacing="-0.6" stroke-width="0.28">mm</text></g>
<line x1="633.6" y1="370.0" x2="701.0" y2="347.0" stroke-width="1.0"/>
<polygon points="701.0,347.0 694.0,351.3 692.8,347.9" style="fill:#242424;stroke:none"/>
<polygon points="633.6,370.0 640.6,365.7 641.8,369.1" style="fill:#242424;stroke:none"/>
<g transform="translate(666.5 354.7) rotate(-19.0)" fill="#222" stroke="#222" stroke-width="0.08"><text x="-15.75" y="3.89" font-size="10.8" letter-spacing="0.03">495</text><text transform="translate(3.52 3.39) scale(1 1.16)" font-size="7.7" letter-spacing="-0.6" stroke-width="0.28">mm</text></g>
<line x1="673.2" y1="240.5" x2="673.2" y2="336.0" stroke-width="1.0"/>
<polygon points="673.2,336.0 671.4,328.0 675.0,328.0" style="fill:#242424;stroke:none"/>
<polygon points="673.2,240.5 675.0,248.5 671.4,248.5" style="fill:#242424;stroke:none"/>
<g transform="translate(668.3 286.8) rotate(-90.0)" fill="#222" stroke="#222" stroke-width="0.08"><text x="-17.15" y="3.89" font-size="10.8" letter-spacing="-0.07">439</text><text transform="translate(4.92 2.49) scale(1 1.16)" font-size="7.7" letter-spacing="-0.6" stroke-width="0.28">mm</text></g>
<line x1="626.5" y1="192.5" x2="698.0" y2="216.5" stroke-width="1.0"/>
<polygon points="698.0,216.5 689.8,215.7 691.0,212.2" style="fill:#242424;stroke:none"/>
<polygon points="626.5,192.5 634.7,193.3 633.5,196.8" style="fill:#242424;stroke:none"/>
<g transform="translate(669.0 196.0) rotate(18.5)" fill="#222" stroke="#222" stroke-width="0.08"><text x="-16.00" y="3.89" font-size="10.8" letter-spacing="0.28">550</text><text transform="translate(3.77 3.39) scale(1 1.16)" font-size="7.7" letter-spacing="-0.6" stroke-width="0.28">mm</text></g>
<line x1="642.5" y1="205.5" x2="642.5" y2="262.0" stroke-width="1.12"/>
<polygon points="642.5,243.5 640.7,235.5 644.3,235.5" style="fill:#242424;stroke:none"/>
<polygon points="642.5,249.5 644.3,257.5 640.7,257.5" style="fill:#242424;stroke:none"/>
<g transform="translate(637.7 216.0) rotate(-90.0)" fill="#222" stroke="#222" stroke-width="0.08"><text x="-17.50" y="3.89" font-size="10.8" letter-spacing="0.18">21.5</text><text transform="translate(5.27 3.39) scale(1 1.16)" font-size="7.7" letter-spacing="-0.6" stroke-width="0.28">mm</text></g>
<line x1="584.0" y1="291.8" x2="648.5" y2="291.8" stroke-width="1.12"/>
<polygon points="632.3,291.8 624.3,293.6 624.3,290.0" style="fill:#242424;stroke:none"/>
<polygon points="635.2,291.8 643.2,290.0 643.2,293.6" style="fill:#242424;stroke:none"/>
<g transform="translate(604.5 287.2) rotate(0.0)" fill="#222" stroke="#222" stroke-width="0.08"><text x="-13.75" y="3.89" font-size="10.8" letter-spacing="-0.20">22</text><text transform="translate(1.52 3.89) scale(1 1.16)" font-size="7.7" letter-spacing="-0.6" stroke-width="0.28">mm</text></g>
<line x1="69.1" y1="682.1" x2="69.1" y2="808.6" stroke-width="1.12"/>
<line x1="69.1" y1="682.1" x2="139.1" y2="705.1" stroke-width="1.12"/>
<line x1="71.6" y1="680.6" x2="141.6" y2="703.1" stroke-width="1.12"/>
<line x1="69.1" y1="682.1" x2="71.6" y2="680.6" stroke-width="1.12"/>
<line x1="139.1" y1="705.1" x2="141.6" y2="703.1" stroke-width="1.12"/>
<line x1="139.1" y1="705.1" x2="139.1" y2="845.1" stroke-width="1.12"/>
<line x1="141.6" y1="703.1" x2="141.6" y2="804.6" stroke-width="1.12"/>
<line x1="79.1" y1="683.1" x2="130.6" y2="664.1" stroke-width="1.12"/>
<line x1="130.6" y1="664.1" x2="207.6" y2="688.6" stroke-width="1.12"/>
<line x1="207.6" y1="688.6" x2="142.1" y2="708.1" stroke-width="1.12"/>
<line x1="207.6" y1="688.6" x2="207.6" y2="781.6" stroke-width="1.12"/>
<line x1="141.6" y1="804.6" x2="207.6" y2="781.6" stroke-width="1.12"/>
<line x1="69.1" y1="779.6" x2="139.1" y2="803.6" stroke-width="1.12"/>
<line x1="69.1" y1="703.6" x2="139.1" y2="726.6" stroke-width="1.12"/>
<line x1="69.1" y1="707.1" x2="139.1" y2="730.1" stroke-width="1.12"/>
<polygon points="90.6,697.6 114.6,705.6 114.6,709.1 90.6,701.1" fill="none" stroke-width="1.12"/>
<ellipse cx="81.6" cy="717.8" rx="4.1" ry="3.7" fill="#fff" transform="rotate(-25 81.6 717.8)"/>
<path d="M65,241.3 L95.6,250.8 M62,243.7 L94.6,253.4" fill="none" stroke-width="1.12" transform="translate(18.6 477.6)"/>
<ellipse cx="117.2" cy="729.3" rx="4.2" ry="3.3" fill="#fff" transform="rotate(-15 117.2 729.3)"/>
<path d="M63.5,254 Q63.5,249 68,250.3 L104,262 Q108,263.4 108,267.5 L108,303 Q108,308 104,307 L67.5,295.2 Q63.5,294 63.5,290 Z" fill="none" stroke-width="1.12" transform="translate(18.6 477.6)"/>
<line x1="130.6" y1="637.6" x2="130.6" y2="664.1" stroke-width="1.12"/>
<line x1="207.9" y1="661.6" x2="207.9" y2="688.6" stroke-width="1.12"/>
<line x1="207.9" y1="788.6" x2="207.9" y2="814.6" stroke-width="1.12"/>
<line x1="28.6" y1="737.6" x2="152.1" y2="699.6" stroke-width="1.12"/>
<line x1="34.6" y1="842.0" x2="141.6" y2="804.6" stroke-width="1.12"/>
<line x1="40.2" y1="734.6" x2="40.2" y2="840.6" stroke-width="1.0"/>
<polygon points="40.2,840.6 38.4,832.6 42.0,832.6" style="fill:#242424;stroke:none"/>
<polygon points="40.2,734.6 42.0,742.6 38.4,742.6" style="fill:#242424;stroke:none"/>
<g transform="translate(34.6 787.1) rotate(-90.0)" fill="#222" stroke="#222" stroke-width="0.08"><text x="-16.50" y="3.89" font-size="10.8" letter-spacing="0.63">456</text><text transform="translate(4.27 3.39) scale(1 1.16)" font-size="7.7" letter-spacing="-0.6" stroke-width="0.28">mm</text></g>
<line x1="69.1" y1="803.2" x2="138.6" y2="826.6" stroke-width="1.0"/>
<polygon points="138.6,826.6 130.4,825.8 131.6,822.3" style="fill:#242424;stroke:none"/>
<polygon points="69.1,803.2 77.3,804.0 76.1,807.5" style="fill:#242424;stroke:none"/>
<g transform="translate(105.6 810.8) rotate(18.5)" fill="#222" stroke="#222" stroke-width="0.08"><text x="-15.50" y="3.89" font-size="10.8" letter-spacing="-0.20">595</text><text transform="translate(3.27 3.39) scale(1 1.16)" font-size="7.7" letter-spacing="-0.6" stroke-width="0.28">mm</text></g>
<line x1="140.2" y1="826.6" x2="207.6" y2="803.6" stroke-width="1.0"/>
<polygon points="207.6,803.6 200.6,807.9 199.4,804.5" style="fill:#242424;stroke:none"/>
<polygon points="140.2,826.6 147.2,822.3 148.4,825.7" style="fill:#242424;stroke:none"/>
<g transform="translate(173.1 811.3) rotate(-19.0)" fill="#222" stroke="#222" stroke-width="0.08"><text x="-15.75" y="3.89" font-size="10.8" letter-spacing="0.03">495</text><text transform="translate(3.52 3.39) scale(1 1.16)" font-size="7.7" letter-spacing="-0.6" stroke-width="0.28">mm</text></g>
<line x1="179.8" y1="697.1" x2="179.8" y2="792.6" stroke-width="1.0"/>
<polygon points="179.8,792.6 178.0,784.6 181.6,784.6" style="fill:#242424;stroke:none"/>
<polygon points="179.8,697.1 181.6,705.1 178.0,705.1" style="fill:#242424;stroke:none"/>
<g transform="translate(174.9 743.4) rotate(-90.0)" fill="#222" stroke="#222" stroke-width="0.08"><text x="-17.15" y="3.89" font-size="10.8" letter-spacing="-0.07">439</text><text transform="translate(4.92 2.49) scale(1 1.16)" font-size="7.7" letter-spacing="-0.6" stroke-width="0.28">mm</text></g>
<line x1="133.1" y1="649.1" x2="204.6" y2="673.1" stroke-width="1.0"/>
<polygon points="204.6,673.1 196.4,672.3 197.6,668.8" style="fill:#242424;stroke:none"/>
<polygon points="133.1,649.1 141.3,649.9 140.1,653.4" style="fill:#242424;stroke:none"/>
<g transform="translate(175.6 652.6) rotate(18.5)" fill="#222" stroke="#222" stroke-width="0.08"><text x="-16.00" y="3.89" font-size="10.8" letter-spacing="0.28">550</text><text transform="translate(3.77 3.39) scale(1 1.16)" font-size="7.7" letter-spacing="-0.6" stroke-width="0.28">mm</text></g>
<line x1="149.1" y1="662.1" x2="149.1" y2="718.6" stroke-width="1.12"/>
<polygon points="149.1,700.1 147.3,692.1 150.9,692.1" style="fill:#242424;stroke:none"/>
<polygon points="149.1,706.1 150.9,714.1 147.3,714.1" style="fill:#242424;stroke:none"/>
<g transform="translate(144.3 672.6) rotate(-90.0)" fill="#222" stroke="#222" stroke-width="0.08"><text x="-17.50" y="3.89" font-size="10.8" letter-spacing="0.18">21.5</text><text transform="translate(5.27 3.39) scale(1 1.16)" font-size="7.7" letter-spacing="-0.6" stroke-width="0.28">mm</text></g>
<line x1="97.0" y1="748.4" x2="155.1" y2="748.4" stroke-width="1.12"/>
<polygon points="138.9,748.4 130.9,750.2 130.9,746.6" style="fill:#242424;stroke:none"/>
<polygon points="141.8,748.4 149.8,746.6 149.8,750.2" style="fill:#242424;stroke:none"/>
<g transform="translate(112.0 743.8) rotate(0.0)" fill="#222" stroke="#222" stroke-width="0.08"><text x="-12.50" y="3.89" font-size="10.8" letter-spacing="-0.20">22</text><text transform="translate(0.27 3.89) scale(1 1.16)" font-size="7.7" letter-spacing="-0.6" stroke-width="0.28">mm</text></g>
<line x1="570.5" y1="703.5" x2="570.5" y2="830.0" stroke-width="1.12"/>
<line x1="570.5" y1="703.5" x2="640.5" y2="726.5" stroke-width="1.12"/>
<line x1="573.0" y1="702.0" x2="643.0" y2="724.5" stroke-width="1.12"/>
<line x1="570.5" y1="703.5" x2="573.0" y2="702.0" stroke-width="1.12"/>
<line x1="640.5" y1="726.5" x2="643.0" y2="724.5" stroke-width="1.12"/>
<line x1="640.5" y1="726.5" x2="640.5" y2="866.5" stroke-width="1.12"/>
<line x1="643.0" y1="724.5" x2="643.0" y2="826.0" stroke-width="1.12"/>
<line x1="580.5" y1="704.5" x2="632.0" y2="685.5" stroke-width="1.12"/>
<line x1="632.0" y1="685.5" x2="709.0" y2="710.0" stroke-width="1.12"/>
<line x1="709.0" y1="710.0" x2="643.5" y2="729.5" stroke-width="1.12"/>
<line x1="709.0" y1="710.0" x2="709.0" y2="803.0" stroke-width="1.12"/>
<line x1="643.0" y1="826.0" x2="709.0" y2="803.0" stroke-width="1.12"/>
<line x1="570.5" y1="801.0" x2="640.5" y2="825.0" stroke-width="1.12"/>
<line x1="570.5" y1="725.0" x2="640.5" y2="748.0" stroke-width="1.12"/>
<line x1="570.5" y1="728.5" x2="640.5" y2="751.5" stroke-width="1.12"/>
<polygon points="592.0,719.0 616.0,727.0 616.0,730.5 592.0,722.5" fill="none" stroke-width="1.12"/>
<ellipse cx="583.0" cy="739.2" rx="4.1" ry="3.7" fill="#fff" transform="rotate(-25 583.0 739.2)"/>
<path d="M65,241.3 L95.6,250.8 M62,243.7 L94.6,253.4" fill="none" stroke-width="1.12" transform="translate(520.0 499.0)"/>
<ellipse cx="618.6" cy="750.7" rx="4.2" ry="3.3" fill="#fff" transform="rotate(-15 618.6 750.7)"/>
<path d="M63.5,254 Q63.5,249 68,250.3 L104,262 Q108,263.4 108,267.5 L108,303 Q108,308 104,307 L67.5,295.2 Q63.5,294 63.5,290 Z" fill="none" stroke-width="1.12" transform="translate(520.0 499.0)"/>
<line x1="632.0" y1="659.0" x2="632.0" y2="685.5" stroke-width="1.12"/>
<line x1="709.3" y1="683.0" x2="709.3" y2="710.0" stroke-width="1.12"/>
<line x1="709.3" y1="810.0" x2="709.3" y2="836.0" stroke-width="1.12"/>
<line x1="530.0" y1="759.0" x2="653.5" y2="721.0" stroke-width="1.12"/>
<line x1="536.0" y1="863.4" x2="643.0" y2="826.0" stroke-width="1.12"/>
<line x1="541.6" y1="756.0" x2="541.6" y2="862.0" stroke-width="1.0"/>
<polygon points="541.6,862.0 539.8,854.0 543.4,854.0" style="fill:#242424;stroke:none"/>
<polygon points="541.6,756.0 543.4,764.0 539.8,764.0" style="fill:#242424;stroke:none"/>
<g transform="translate(536.0 808.5) rotate(-90.0)" fill="#222" stroke="#222" stroke-width="0.08"><text x="-16.50" y="3.89" font-size="10.8" letter-spacing="0.63">456</text><text transform="translate(4.27 3.39) scale(1 1.16)" font-size="7.7" letter-spacing="-0.6" stroke-width="0.28">mm</text></g>
<line x1="570.5" y1="824.6" x2="640.0" y2="848.0" stroke-width="1.0"/>
<polygon points="640.0,848.0 631.8,847.2 633.0,843.7" style="fill:#242424;stroke:none"/>
<polygon points="570.5,824.6 578.7,825.4 577.5,828.9" style="fill:#242424;stroke:none"/>
<g transform="translate(607.0 832.2) rotate(18.5)" fill="#222" stroke="#222" stroke-width="0.08"><text x="-15.50" y="3.89" font-size="10.8" letter-spacing="-0.20">595</text><text transform="translate(3.27 3.39) scale(1 1.16)" font-size="7.7" letter-spacing="-0.6" stroke-width="0.28">mm</text></g>
<line x1="641.6" y1="848.0" x2="709.0" y2="825.0" stroke-width="1.0"/>
<polygon points="709.0,825.0 702.0,829.3 700.8,825.9" style="fill:#242424;stroke:none"/>
<polygon points="641.6,848.0 648.6,843.7 649.8,847.1" style="fill:#242424;stroke:none"/>
<g transform="translate(674.5 832.7) rotate(-19.0)" fill="#222" stroke="#222" stroke-width="0.08"><text x="-15.75" y="3.89" font-size="10.8" letter-spacing="0.03">495</text><text transform="translate(3.52 3.39) scale(1 1.16)" font-size="7.7" letter-spacing="-0.6" stroke-width="0.28">mm</text></g>
<line x1="681.2" y1="718.5" x2="681.2" y2="814.0" stroke-width="1.0"/>
<polygon points="681.2,814.0 679.4,806.0 683.0,806.0" style="fill:#242424;stroke:none"/>
<polygon points="681.2,718.5 683.0,726.5 679.4,726.5" style="fill:#242424;stroke:none"/>
<g transform="translate(676.3 764.8) rotate(-90.0)" fill="#222" stroke="#222" stroke-width="0.08"><text x="-17.15" y="3.89" font-size="10.8" letter-spacing="-0.07">439</text><text transform="translate(4.92 2.49) scale(1 1.16)" font-size="7.7" letter-spacing="-0.6" stroke-width="0.28">mm</text></g>
<line x1="634.5" y1="670.5" x2="706.0" y2="694.5" stroke-width="1.0"/>
<polygon points="706.0,694.5 697.8,693.7 699.0,690.2" style="fill:#242424;stroke:none"/>
<polygon points="634.5,670.5 642.7,671.3 641.5,674.8" style="fill:#242424;stroke:none"/>
<g transform="translate(677.0 674.0) rotate(18.5)" fill="#222" stroke="#222" stroke-width="0.08"><text x="-16.00" y="3.89" font-size="10.8" letter-spacing="0.28">550</text><text transform="translate(3.77 3.39) scale(1 1.16)" font-size="7.7" letter-spacing="-0.6" stroke-width="0.28">mm</text></g>
<line x1="650.5" y1="683.5" x2="650.5" y2="740.0" stroke-width="1.12"/>
<polygon points="650.5,721.5 648.7,713.5 652.3,713.5" style="fill:#242424;stroke:none"/>
<polygon points="650.5,727.5 652.3,735.5 648.7,735.5" style="fill:#242424;stroke:none"/>
<g transform="translate(645.7 694.0) rotate(-90.0)" fill="#222" stroke="#222" stroke-width="0.08"><text x="-17.50" y="3.89" font-size="10.8" letter-spacing="0.18">21.5</text><text transform="translate(5.27 3.39) scale(1 1.16)" font-size="7.7" letter-spacing="-0.6" stroke-width="0.28">mm</text></g>
<line x1="598.0" y1="776.4" x2="656.5" y2="776.4" stroke-width="1.12"/>
<polygon points="640.3,776.4 632.3,778.2 632.3,774.6" style="fill:#242424;stroke:none"/>
<polygon points="643.2,776.4 651.2,774.6 651.2,778.2" style="fill:#242424;stroke:none"/>
<g transform="translate(613.0 771.8) rotate(0.0)" fill="#222" stroke="#222" stroke-width="0.08"><text x="-13.50" y="3.89" font-size="10.8" letter-spacing="-0.20">22</text><text transform="translate(1.27 3.89) scale(1 1.16)" font-size="7.7" letter-spacing="-0.6" stroke-width="0.28">mm</text></g>
<text x="506.0" y="449.0" text-anchor="middle" dominant-baseline="central" font-size="22.6" letter-spacing="0.7" fill="#484848" font-weight="bold" stroke="#484848" stroke-width="0.15">全嵌开孔安装图</text>
<text x="506.0" y="910.8" text-anchor="middle" dominant-baseline="central" font-size="22.6" letter-spacing="0.7" fill="#484848" font-weight="bold" stroke="#484848" stroke-width="0.15">半嵌开孔安装图</text>
</svg>
</body></html>
